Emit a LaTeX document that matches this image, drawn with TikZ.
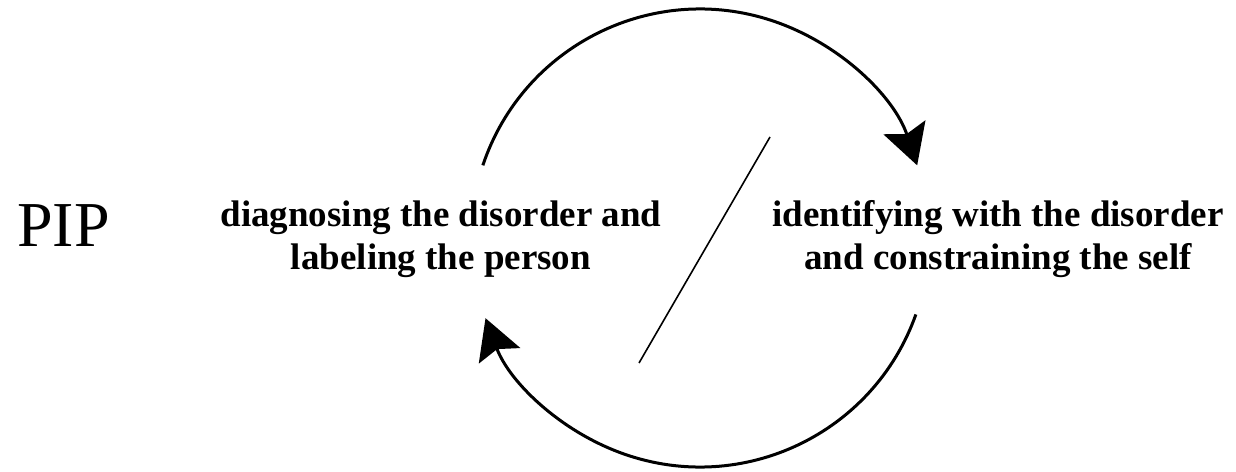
\documentclass[tikz,border=0pt]{standalone}
\usepackage{fontspec}
\setmainfont{Liberation Serif}
\usetikzlibrary{arrows.meta}
\begin{document}
\begin{tikzpicture}[x=1pt,y=-1pt,
  cycletext/.style={font=\fontsize{37}{43}\selectfont\bfseries, align=center, inner sep=0pt},
  cyclearc/.style={line width=3pt, -{Stealth[length=40pt,width=44pt,inset=7pt]}},
  divider/.style={line width=1.6pt}]
  \useasboundingbox (0,0) rectangle (1236,471);
  % centre of the cycle
  \coordinate (c) at (700,238);
  % labels
  \node[anchor=base west, inner sep=0pt, font=\fontsize{64}{64}\selectfont] (pip) at (17,246) {PIP};
  \node[cycletext] (diag) at (441,239) {diagnosing the disorder and\\labeling the person};
  \node[cycletext] (ident) at (998,239) {identifying with the disorder\\and constraining the self};
  % arc start points on the circle
  \coordinate (a1) at ([shift={(161.5:229pt)}]c);
  \coordinate (b1) at ([shift={(-19.5:229pt)}]c);
  % upper and lower arcs of the cycle, both clockwise
  \draw[cyclearc] (a1) arc[start angle=161.5, end angle=18.5, radius=229pt];
  \draw[cyclearc] (b1) arc[start angle=-19.5, end angle=-159.5, radius=229pt];
  % slash between the two labels
  \coordinate (s1) at (770,137);
  \coordinate (s2) at (639,363);
  \draw[divider] (s1) -- (s2);
\end{tikzpicture}
\end{document}
